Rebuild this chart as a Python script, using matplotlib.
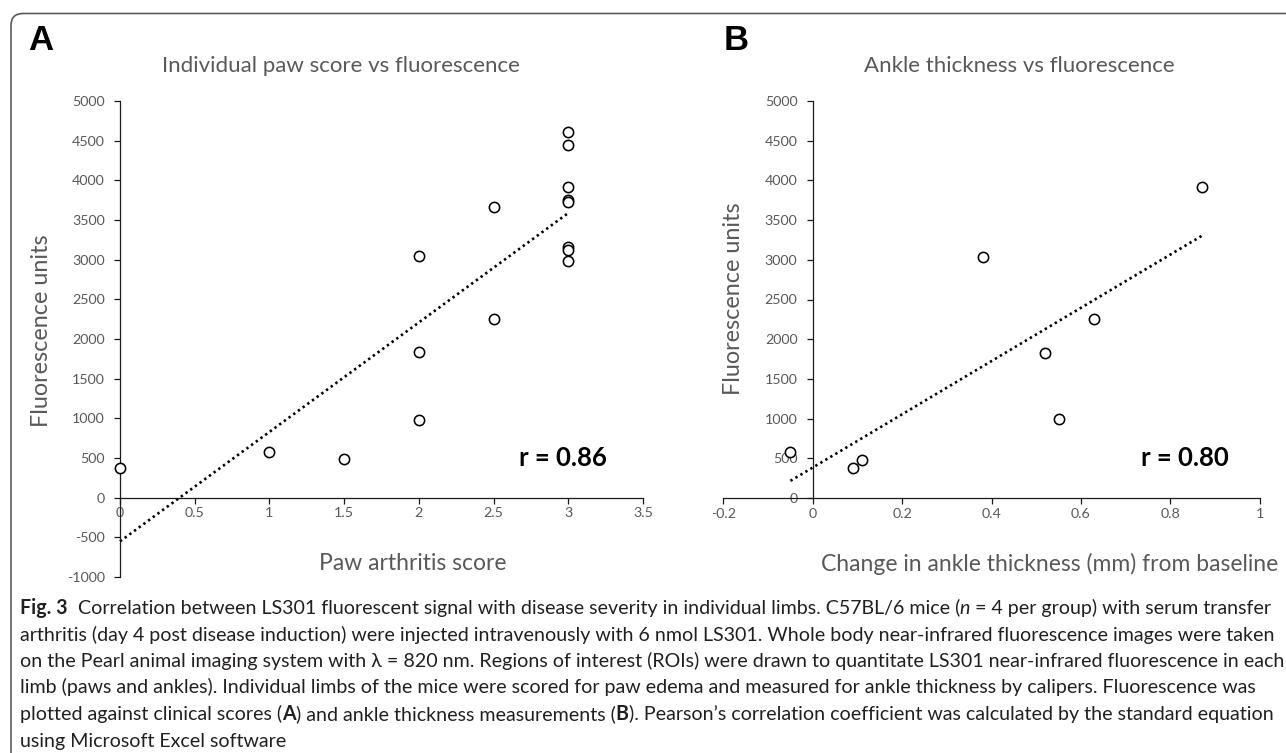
import numpy as np
import matplotlib
matplotlib.use("Agg")
import matplotlib.pyplot as plt
from matplotlib.path import Path
from matplotlib.patches import PathPatch

plt.rcParams['font.family'] = ['Lato', 'DejaVu Sans']

# ---------------- data ----------------
paw_score = [0, 1, 1.5, 2, 2, 2, 2.5, 2.5, 3, 3, 3, 3, 3, 3, 3, 3]
paw_fluor = [375, 570, 485, 3040, 1830, 985, 3670, 2250,
             4610, 4450, 3920, 3750, 3725, 3165, 3120, 2980]
ankle_change = [-0.05, 0.09, 0.11, 0.38, 0.52, 0.55, 0.63, 0.87]
ankle_fluor = [575, 375, 481, 3040, 1830, 990, 2250, 3920]

xticks_A = [0, 0.5, 1, 1.5, 2, 2.5, 3, 3.5]
xticklabels_A = ["0", "0.5", "1", "1.5", "2", "2.5", "3", "3.5"]
yticks_A = list(range(-1000, 5001, 500))
xticks_B = [-0.2, 0, 0.2, 0.4, 0.6, 0.8, 1.0]
xticklabels_B = ["-0.2", "0", "0.2", "0.4", "0.6", "0.8", "1"]
yticks_B = list(range(0, 5001, 500))

title_A = "Individual paw score vs fluorescence"
title_B = "Ankle thickness vs fluorescence"
ylabel = "Fluorescence units"
xlabel_A = "Paw arthritis score"
xlabel_B = "Change in ankle thickness (mm) from baseline"
r_A = "r = 0.86"
r_B = "r = 0.80"

caption_lines = [
    [("Fig. 3", "bold", "normal", 0),
     ("Correlation between LS301 fluorescent signal with disease severity in individual limbs. C57BL/6 mice (", "normal", "normal", 2),
     ("n", "normal", "italic", 0),
     ("= 4 per group) with serum transfer", "normal", "normal", 1)],
    [("arthritis (day 4 post disease induction) were injected intravenously with 6 nmol LS301. Whole body near-infrared fluorescence images were taken", "normal", "normal", 0)],
    [("on the Pearl animal imaging system with λ = 820 nm. Regions of interest (ROIs) were drawn to quantitate LS301 near-infrared fluorescence in each", "normal", "normal", 0)],
    [("limb (paws and ankles). Individual limbs of the mice were scored for paw edema and measured for ankle thickness by calipers. Fluorescence was", "normal", "normal", 0)],
    [("plotted against clinical scores (", "normal", "normal", 0),
     ("A", "bold", "normal", 0),
     (") and ankle thickness measurements (", "normal", "normal", 0),
     ("B", "bold", "normal", 0),
     ("). Pearson’s correlation coefficient was calculated by the standard equation", "normal", "normal", 0)],
    [("using Microsoft Excel software", "normal", "normal", 0)],
]

# ---------------- figure ----------------
W, H = 1286, 753
fig = plt.figure(figsize=(W / 100, H / 100), dpi=100)
fig.patch.set_facecolor("white")

def fx(px):
    return px / W

def fy(py):
    return 1 - py / H

GRAY = "#595959"

# frame (rounded top-left corner) drawn in pixel space
bg = fig.add_axes([0, 0, 1, 1], zorder=-5)
bg.set_xlim(0, W)
bg.set_ylim(H, 0)
bg.axis("off")
r = 12
x0, y0 = 11, 13.5
verts = [(x0, H + 5), (x0, y0 + r), (x0, y0), (x0 + r, y0), (W + 5, y0)]
codes = [Path.MOVETO, Path.LINETO, Path.CURVE3, Path.CURVE3, Path.LINETO]
bg.add_patch(PathPatch(Path(verts, codes), fill=False, edgecolor="#5a5a5a", lw=1.2))


def style_axes(ax, xticks, xticklabels, yticks):
    ax.spines["top"].set_visible(False)
    ax.spines["right"].set_visible(False)
    ax.spines["left"].set_position(("data", 0))
    ax.spines["bottom"].set_position(("data", 0))
    for s in ("left", "bottom"):
        ax.spines[s].set_color("#1a1a1a")
        ax.spines[s].set_linewidth(0.9)
    ax.set_xticks(xticks)
    ax.set_xticklabels(xticklabels)
    ax.set_yticks(yticks)
    ax.set_yticklabels([str(v) for v in yticks])
    ax.tick_params(axis="y", direction="out", length=4, width=0.9, color="#1a1a1a",
                   labelsize=10.3, labelcolor=GRAY, pad=7)
    ax.tick_params(axis="x", direction="out", length=4, width=0.9, color="#1a1a1a",
                   labelsize=10.3, labelcolor=GRAY, pad=3)
    ax.patch.set_alpha(0)


def scatter_with_trend(ax, x, y):
    x = np.asarray(x, float)
    y = np.asarray(y, float)
    slope, intercept = np.polyfit(x, y, 1)
    xs = np.array([x.min(), x.max()])
    ax.plot(xs, slope * xs + intercept, color="black", lw=1.9,
            linestyle=(0, (0.9, 1.3)), clip_on=False, zorder=2)
    ax.plot(x, y, linestyle="none", marker="o", markersize=7.4,
            markerfacecolor="white", markeredgecolor="black", markeredgewidth=1.15,
            clip_on=False, zorder=3)


# Panel A
axA = fig.add_axes([fx(120), fy(577), (643 - 120) / W, (577 - 101) / H])
axA.set_xlim(0, 3.5)
axA.set_ylim(-1000, 5000)
style_axes(axA, xticks_A, xticklabels_A, yticks_A)
scatter_with_trend(axA, paw_score, paw_fluor)

# Panel B
axB = fig.add_axes([fx(723.4), fy(498), (1259.6 - 723.4) / W, (498 - 101) / H])
axB.set_xlim(-0.2, 1.0)
axB.set_ylim(0, 5000)
style_axes(axB, xticks_B, xticklabels_B, yticks_B)
scatter_with_trend(axB, ankle_change, ankle_fluor)

# panel letters
fig.text(fx(28), fy(41), "A", fontsize=25, fontweight="bold", color="black",
         ha="left", va="center", family=["Liberation Sans", "DejaVu Sans"])
fig.text(fx(724), fy(41), "B", fontsize=25, fontweight="bold", color="black",
         ha="left", va="center", family=["Liberation Sans", "DejaVu Sans"])

# titles
fig.text(fx(341), fy(66), title_A, fontsize=16, color=GRAY, ha="center", va="center")
fig.text(fx(1019), fy(66), title_B, fontsize=16, color=GRAY, ha="center", va="center")

# y labels
fig.text(fx(42), fy(331), ylabel, fontsize=16.8, color=GRAY, ha="center", va="center", rotation=90)
fig.text(fx(733), fy(299), ylabel, fontsize=16.8, color=GRAY, ha="center", va="center", rotation=90)

# x labels
fig.text(fx(413), fy(564), xlabel_A, fontsize=16.5, color=GRAY, ha="center", va="center")
fig.text(fx(1050), fy(564), xlabel_B, fontsize=16.5, color=GRAY, ha="center", va="center")

# r values
fig.text(fx(563), fy(458), r_A, fontsize=18.5, fontweight="bold", color="black", ha="center", va="center")
fig.text(fx(1185), fy(458), r_B, fontsize=18.5, fontweight="bold", color="black", ha="center", va="center")

# caption
renderer = fig.canvas.get_renderer()
CAP_COLOR = "#231f20"


def measure(txt, size, weight="normal", style="normal"):
    t = fig.text(0, 0, txt, fontsize=size, fontweight=weight, fontstyle=style)
    w = t.get_window_extent(renderer).width
    t.remove()
    return w


def line_width(pieces, size):
    sp = measure("a a", size) - measure("aa", size)
    total = 0
    for txt, weight, style, nsp in pieces:
        total += nsp * sp + measure(txt, size, weight, style)
    return total


base = 12.0
target = 1270 - 20
cap_size = base * target / line_width(caption_lines[0], base)
space_w = measure("a a", cap_size) - measure("aa", cap_size)

cap_left = 20
cap_baselines = [614, 640.5, 667, 693.5, 720, 746.5]
for pieces, yb in zip(caption_lines, cap_baselines):
    x = cap_left
    for txt, weight, style, nsp in pieces:
        x += nsp * space_w
        t = fig.text(fx(x), fy(yb), txt, fontsize=cap_size, fontweight=weight,
                     fontstyle=style, color=CAP_COLOR, ha="left", va="baseline")
        x += t.get_window_extent(renderer).width

fig.savefig("out.png", dpi=100, facecolor="white")
